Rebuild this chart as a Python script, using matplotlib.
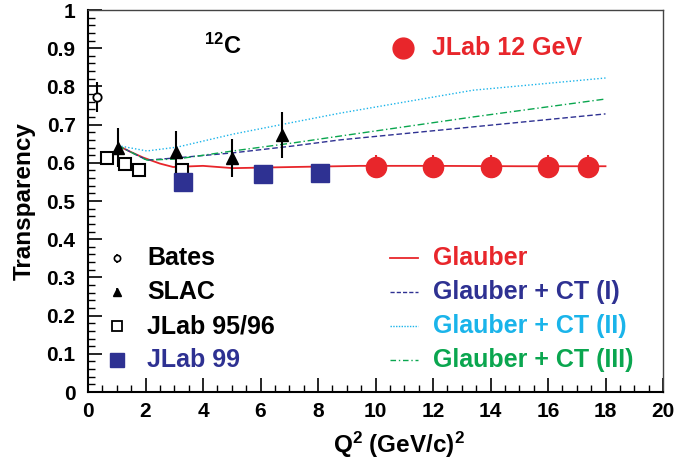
import numpy as np
import matplotlib
matplotlib.use('Agg')
import matplotlib.pyplot as plt
from matplotlib.ticker import MultipleLocator

plt.rcParams['font.family'] = ['Liberation Sans', 'DejaVu Sans']
plt.rcParams['font.weight'] = 'bold'
plt.rcParams['mathtext.fontset'] = 'custom'
plt.rcParams['mathtext.rm'] = 'Liberation Sans:bold'
plt.rcParams['mathtext.default'] = 'rm'

RED = '#e8262b'
NAVY = '#2e3192'
CYAN = '#1ab4ea'
GREEN = '#0aa64f'

# data points
bates_q2 = [0.31]
bates_t = [0.772]
bates_err = [0.04]

slac_q2 = [1.04, 3.06, 5.0, 6.75]
slac_t = [0.64, 0.628, 0.612, 0.672]
slac_err = [0.05, 0.055, 0.05, 0.06]

jlab9596_q2 = [0.66, 1.29, 1.77, 3.27]
jlab9596_t = [0.613, 0.597, 0.58, 0.58]

jlab99_q2 = [3.3, 6.09, 8.07]
jlab99_t = [0.55, 0.57, 0.573]

jlab12_q2 = [10.0, 12.0, 14.0, 16.0, 17.4]
jlab12_t = [0.59, 0.59, 0.59, 0.59, 0.59]
jlab12_err = [0.03, 0.03, 0.03, 0.03, 0.03]

# model curves
glauber_q2 = [1.04, 1.5, 1.91, 2.5, 2.96, 4.0, 5.04, 7.13, 9.46, 12.0, 15.0, 18.0]
glauber_t = [0.645, 0.628, 0.614, 0.598, 0.589, 0.592, 0.586, 0.589, 0.592, 0.592, 0.591, 0.591]

ct1_q2 = [1.04, 2.05, 3.1, 5.04, 7.13, 8.77, 13.39, 18.0]
ct1_t = [0.645, 0.607, 0.613, 0.626, 0.644, 0.66, 0.694, 0.728]

ct2_q2 = [1.04, 2.05, 3.1, 5.04, 7.13, 8.77, 13.39, 18.0]
ct2_t = [0.645, 0.631, 0.641, 0.675, 0.706, 0.73, 0.79, 0.822]

ct3_q2 = [1.04, 2.05, 3.1, 5.04, 7.13, 8.77, 13.39, 18.0]
ct3_t = [0.645, 0.607, 0.61, 0.631, 0.652, 0.67, 0.72, 0.767]

fig = plt.figure(figsize=(6.74, 4.59), dpi=100)
ax = fig.add_axes([88 / 674, 1 - 392 / 459, 575 / 674, 382 / 459])

# curves
ax.plot(glauber_q2, glauber_t, color=RED, lw=1.3, zorder=2)
ax.plot(ct1_q2, ct1_t, color=NAVY, lw=1.0, ls=(0, (4, 2)), zorder=2)
ax.plot(ct2_q2, ct2_t, color=CYAN, lw=1.0, ls=(0, (1, 1.5)), zorder=2)
ax.plot(ct3_q2, ct3_t, color=GREEN, lw=1.0, ls=(0, (5, 2, 1, 2)), zorder=2)

# data
ax.errorbar(bates_q2, bates_t, yerr=bates_err, fmt='o', ms=6, mfc='white', mec='black',
            mew=1.3, ecolor='black', elinewidth=1.5, capsize=0, zorder=4, clip_on=False)
ax.errorbar(slac_q2, slac_t, yerr=slac_err, fmt='^', ms=9, color='black',
            elinewidth=1.5, capsize=0, zorder=4)
ax.plot(jlab9596_q2, jlab9596_t, 's', ms=9, mfc='white', mec='black', mew=1.5, zorder=3)
ax.plot(jlab99_q2, jlab99_t, 's', ms=12.5, color=NAVY, zorder=3)
ax.errorbar(jlab12_q2, jlab12_t, yerr=jlab12_err, fmt='o', ms=14.5, color=RED,
            elinewidth=1.5, capsize=0, zorder=4)

ax.set_xlim(0, 20)
ax.set_ylim(0, 1)
ax.xaxis.set_minor_locator(MultipleLocator(0.5))
ax.yaxis.set_minor_locator(MultipleLocator(0.02))
ax.set_xticks(np.arange(0, 21, 2))
ax.set_xticklabels([str(v) for v in range(0, 21, 2)])
ax.set_yticks(np.round(np.arange(0, 1.01, 0.1), 1))
ax.set_yticklabels(['0'] + [f'{v:.1f}' for v in np.arange(0.1, 0.95, 0.1)] + ['1'])
ax.tick_params(which='both', direction='in', top=False, right=False, labelsize=15)
ax.tick_params(which='major', length=10, width=1.2)
ax.tick_params(which='minor', length=5, width=1.0)
for lbl in ax.get_xticklabels() + ax.get_yticklabels():
    lbl.set_fontweight('bold')
ax.tick_params(axis='x', pad=7)
ax.tick_params(axis='y', pad=9)
for s in ['left', 'bottom']:
    ax.spines[s].set_linewidth(1.5)
for s in ['top', 'right']:
    ax.spines[s].set_linewidth(1.0)
    ax.spines[s].set_color('#444444')

ax.set_xlabel('Q$^{2}$ (GeV/c)$^{2}$', fontsize=17.5, fontweight='bold', labelpad=2)
ax.xaxis.set_label_coords(0.54, -0.1)
ax.set_ylabel('Transparency', fontsize=17.5, fontweight='bold', labelpad=8)

# annotations
tr = ax.transAxes
ax.text(0.202, 0.905, '$^{12}$C', transform=tr, fontsize=17, fontweight='bold', ha='left', va='center')
ax.plot([0.548], [0.9], 'o', ms=15, color=RED, transform=tr, clip_on=False)
ax.text(0.599, 0.9, 'JLab 12 GeV', transform=tr, color=RED, fontsize=18, fontweight='bold',
        ha='left', va='center')

# hand-made legend, left column
rows = [0.35, 0.261, 0.172, 0.083]
mx, tx = 0.05, 0.103
ax.errorbar([mx], [rows[0]], yerr=[0.012], fmt='o', ms=4.5, mfc='white', mec='black', mew=1.2,
            ecolor='black', elinewidth=1.2, capsize=0, transform=tr, clip_on=False)
ax.errorbar([mx], [rows[1]], yerr=[0.012], fmt='^', ms=6, color='black', elinewidth=1.2,
            capsize=0, transform=tr, clip_on=False)
ax.plot([mx], [rows[2]], 's', ms=7, mfc='white', mec='black', mew=1.3, transform=tr)
ax.plot([mx], [rows[3]], 's', ms=10, color=NAVY, transform=tr)
left_labels = ['Bates', 'SLAC', 'JLab 95/96', 'JLab 99']
left_colors = ['black', 'black', 'black', NAVY]
for y, lab, c in zip(rows, left_labels, left_colors):
    ax.text(tx, y, lab, transform=tr, color=c, fontsize=18, fontweight='bold', va='center')

# right column
lx0, lx1, rtx = 0.525, 0.574, 0.6
styles = [(RED, '-', 1.3), (NAVY, (0, (3, 1.5)), 1.0), (CYAN, (0, (1, 1)), 1.0),
          (GREEN, (0, (4, 2, 1, 2)), 1.0)]
right_labels = ['Glauber', 'Glauber + CT (I)', 'Glauber + CT (II)', 'Glauber + CT (III)']
for y, lab, (c, ls, lw) in zip(rows, right_labels, styles):
    ax.plot([lx0, lx1], [y, y], color=c, ls=ls, lw=lw, transform=tr)
    ax.text(rtx, y, lab, transform=tr, color=c, fontsize=18, fontweight='bold', va='center')

fig.savefig('out.png', dpi=100)
